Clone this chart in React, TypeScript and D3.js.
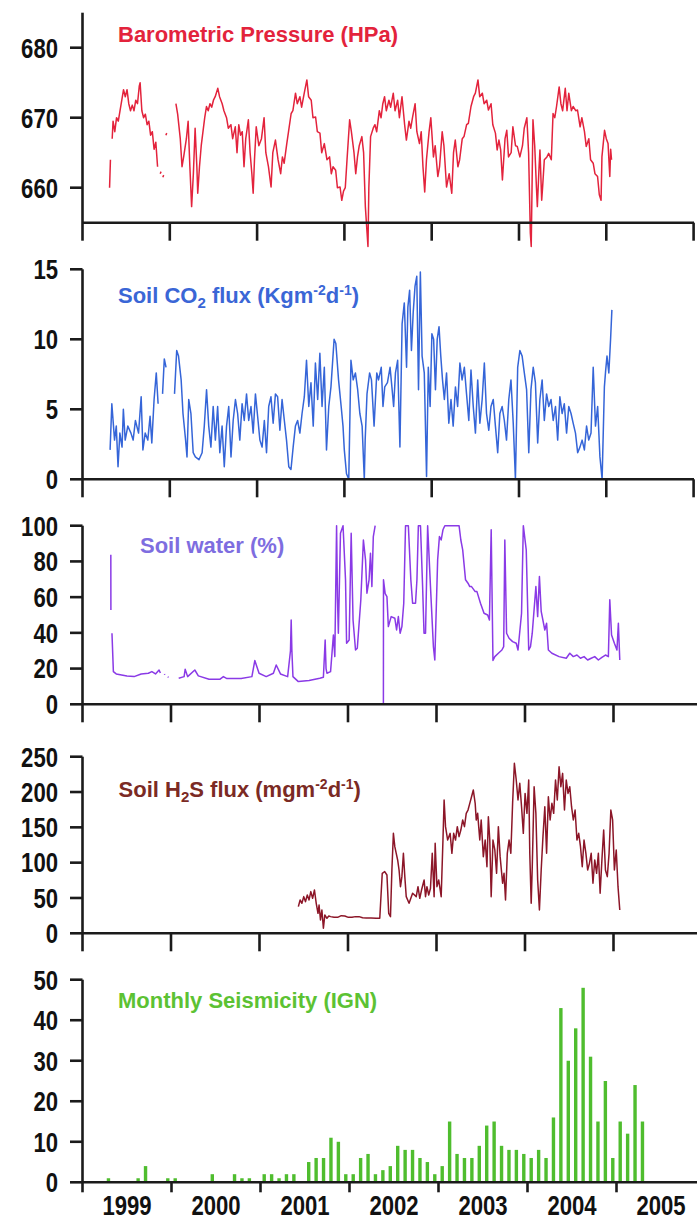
import React from 'react';
import * as d3 from 'd3';

// decimal year, value; null = gap in the record
type Pt = [number, number] | null;

const yearLabels = ['1999', '2000', '2001', '2002', '2003', '2004', '2005'];
const yearTicks = [1999, 2000, 2001, 2002, 2003, 2004, 2005, 2006];

const pressureTicks = [660, 670, 680];
const co2Ticks = [0, 5, 10, 15];
const waterTicks = [0, 20, 40, 60, 80, 100];
const h2sTicks = [0, 50, 100, 150, 200, 250];
const seismicTicks = [0, 10, 20, 30, 40, 50];

const pressure: Pt[] = [
  [1999.31, 660], [1999.32, 664], null,
  [1999.34, 667], [1999.35, 669.5], [1999.37, 668], [1999.39, 670], [1999.41, 669.5], [1999.43, 671],
  [1999.45, 672.5], [1999.47, 674], [1999.49, 673], [1999.51, 674], [1999.53, 672], [1999.55, 671],
  [1999.57, 671.8], [1999.59, 671], [1999.61, 672.5], [1999.63, 672], [1999.65, 674.5], [1999.66, 675],
  [1999.68, 671], [1999.70, 670], [1999.72, 670.5], [1999.74, 669], [1999.76, 669.5], [1999.78, 667.5],
  [1999.80, 668], [1999.82, 665.5], [1999.84, 666.5], [1999.86, 663], null,
  [1999.89, 662], [1999.90, 662.3], null, [1999.92, 661.5], [1999.93, 661.8], null,
  [1999.955, 667.5], [1999.965, 667.8], null,
  [2000.07, 672], [2000.09, 670.5], [2000.12, 667], [2000.14, 663], [2000.16, 664.5], [2000.19, 667],
  [2000.21, 669.5], [2000.23, 663], [2000.25, 657.3], [2000.27, 662], [2000.29, 668.5], [2000.31, 663],
  [2000.32, 659.2], [2000.34, 663], [2000.36, 666], [2000.38, 668], [2000.40, 670], [2000.42, 671.6],
  [2000.44, 671], [2000.46, 672], [2000.48, 671.5], [2000.50, 672.5], [2000.52, 673], [2000.55, 674.2],
  [2000.57, 673], [2000.60, 672], [2000.62, 671], [2000.65, 670], [2000.67, 668.5], [2000.70, 669],
  [2000.72, 667], [2000.75, 668.7], [2000.77, 665], [2000.79, 669], [2000.81, 667.5], [2000.83, 668],
  [2000.85, 663], [2000.87, 667], [2000.90, 669.7], [2000.92, 665], [2000.94, 662], [2000.955, 659.2],
  [2000.97, 664], [2000.99, 668.7], [2001.02, 666], [2001.05, 667], [2001.08, 670], [2001.10, 665],
  [2001.13, 663], [2001.16, 660.1], [2001.18, 665], [2001.21, 666.8], [2001.24, 664], [2001.27, 662],
  [2001.29, 664.4], [2001.31, 663.5], [2001.34, 666.3], [2001.36, 668], [2001.39, 670.6], [2001.41, 671],
  [2001.44, 673.5], [2001.46, 672], [2001.49, 673], [2001.51, 671.5], [2001.54, 673.5], [2001.57, 675.4],
  [2001.59, 673], [2001.62, 672.5], [2001.64, 670], [2001.67, 670.1], [2001.69, 668], [2001.72, 667.8],
  [2001.74, 665], [2001.77, 666.3], [2001.80, 664], [2001.83, 664.4], [2001.85, 662], [2001.87, 663],
  [2001.90, 662.5], [2001.92, 660], [2001.95, 660.1], [2001.97, 658.2], [2001.99, 659.5], [2002.01, 660],
  [2002.03, 664], [2002.06, 669.7], [2002.08, 668], [2002.11, 665], [2002.13, 662], [2002.15, 664.4],
  [2002.17, 666], [2002.20, 667.3], [2002.22, 665], [2002.24, 657.3], [2002.26, 653.5], [2002.27, 651.6],
  [2002.28, 660], [2002.30, 667.3], [2002.33, 668.5], [2002.35, 669], [2002.37, 668], [2002.40, 671],
  [2002.42, 670], [2002.44, 672], [2002.46, 673], [2002.48, 671], [2002.51, 672.5], [2002.53, 671.5],
  [2002.56, 673.5], [2002.58, 671], [2002.61, 672.5], [2002.63, 670], [2002.66, 673], [2002.69, 669],
  [2002.71, 666.8], [2002.74, 669.5], [2002.76, 668.5], [2002.78, 670], [2002.81, 672], [2002.83, 668],
  [2002.86, 666.3], [2002.88, 668], [2002.90, 663], [2002.92, 659.4], [2002.94, 664], [2002.97, 668],
  [2002.99, 670], [2003.02, 664.4], [2003.04, 666], [2003.07, 661.6], [2003.09, 663], [2003.12, 668],
  [2003.14, 666], [2003.17, 660.1], [2003.20, 662], [2003.23, 659.2], [2003.25, 665], [2003.27, 666.8],
  [2003.30, 663], [2003.32, 664], [2003.35, 667], [2003.37, 667.3], [2003.40, 669], [2003.42, 669.2],
  [2003.45, 671.6], [2003.48, 673], [2003.50, 673.5], [2003.53, 675.4], [2003.55, 673], [2003.58, 673.5],
  [2003.60, 672], [2003.63, 672.5], [2003.65, 671.1], [2003.68, 672], [2003.70, 669], [2003.73, 667.8],
  [2003.75, 665.4], [2003.77, 666.8], [2003.79, 665.4], [2003.81, 661.1], [2003.84, 667], [2003.86, 668.2],
  [2003.88, 664.4], [2003.91, 665], [2003.93, 668.7], [2003.96, 666], [2003.98, 665.9], [2004.01, 664.4],
  [2004.04, 666], [2004.06, 668.5], [2004.09, 670], [2004.11, 665], [2004.13, 653.5], [2004.14, 651.6],
  [2004.16, 669.7], [2004.18, 666], [2004.20, 660], [2004.21, 657.3], [2004.23, 663], [2004.24, 665.4],
  [2004.26, 658.2], [2004.27, 660], [2004.29, 664], [2004.32, 664.4], [2004.34, 664.9], [2004.37, 664],
  [2004.39, 670.6], [2004.41, 670], [2004.43, 671.6], [2004.46, 674.4], [2004.48, 672], [2004.50, 671],
  [2004.53, 674.2], [2004.55, 671], [2004.57, 673.5], [2004.60, 671], [2004.62, 671.6], [2004.65, 671],
  [2004.67, 671.1], [2004.70, 668.7], [2004.72, 670], [2004.75, 668], [2004.77, 665.9], [2004.80, 667],
  [2004.82, 664], [2004.85, 663.5], [2004.87, 662], [2004.90, 661.6], [2004.92, 659], [2004.94, 658.2],
  [2004.95, 664.4], [2004.98, 668.2], [2005.00, 667], [2005.02, 666.3], [2005.04, 661.6], [2005.05, 665.5],
  [2005.06, 664],
];

const co2: Pt[] = [
  [1999.316, 2.1], [1999.336, 5.4], [1999.367, 2.8], [1999.387, 3.8], [1999.407, 0.9], [1999.428, 3.3],
  [1999.453, 2.3], [1999.468, 5.0], [1999.489, 2.8], [1999.519, 3.8], [1999.555, 3.3], [1999.580, 2.8],
  [1999.606, 4.2], [1999.642, 3.3], [1999.672, 5.9], [1999.692, 2.1], [1999.718, 3.3], [1999.748, 2.8],
  [1999.774, 4.5], [1999.794, 2.6], [1999.820, 5.7], [1999.845, 7.6], [1999.866, 5.4], null,
  [1999.917, 6.1], [1999.937, 8.6], [1999.957, 8.0], null,
  [2000.054, 6.1], [2000.079, 9.2], [2000.100, 8.8], [2000.130, 7.1], [2000.151, 4.7], [2000.181, 2.8],
  [2000.197, 1.6], [2000.217, 5.7], [2000.242, 4.7], [2000.268, 1.9], [2000.293, 1.6], [2000.334, 1.4],
  [2000.370, 1.9], [2000.395, 3.8], [2000.421, 6.4], [2000.446, 3.8], [2000.471, 2.3], [2000.497, 5.2],
  [2000.522, 2.8], [2000.548, 5.2], [2000.573, 1.9], [2000.599, 3.8], [2000.624, 0.9], [2000.650, 3.8],
  [2000.675, 5.2], [2000.701, 1.6], [2000.726, 4.2], [2000.752, 5.7], [2000.777, 4.7], [2000.802, 2.8],
  [2000.828, 5.4], [2000.853, 4.2], [2000.879, 6.1], [2000.904, 4.2], [2000.930, 5.2], [2000.955, 3.3],
  [2000.981, 6.1], [2001.006, 4.5], [2001.032, 2.8], [2001.057, 2.3], [2001.083, 4.2], [2001.108, 1.9],
  [2001.133, 5.2], [2001.159, 5.9], [2001.184, 4.0], [2001.210, 6.1], [2001.235, 5.9], [2001.261, 3.5],
  [2001.286, 5.7], [2001.312, 4.2], [2001.337, 2.8], [2001.363, 0.9], [2001.388, 0.7], [2001.413, 2.3],
  [2001.439, 3.8], [2001.464, 4.2], [2001.490, 3.3], [2001.515, 4.7], [2001.541, 5.9], [2001.566, 8.5],
  [2001.592, 5.2], [2001.617, 6.9], [2001.643, 3.8], [2001.668, 8.3], [2001.694, 5.7], [2001.719, 9.0],
  [2001.744, 5.2], [2001.770, 8.0], [2001.795, 2.1], [2001.821, 5.2], [2001.846, 6.6], [2001.882, 10.0],
  [2001.902, 9.7], [2001.933, 7.1], [2001.963, 5.2], [2001.984, 3.8], [2001.999, 2.1], [2002.024, 0.4],
  [2002.050, 0], [2002.075, 8.5], [2002.101, 7.1], [2002.126, 7.6], [2002.152, 6.4], [2002.177, 4.7],
  [2002.203, 3.8], [2002.228, 0], [2002.238, 2.8], [2002.259, 6.1], [2002.289, 7.6], [2002.310, 7.1],
  [2002.340, 3.8], [2002.371, 7.6], [2002.391, 7.1], [2002.422, 8.0], [2002.442, 5.2], [2002.462, 6.6],
  [2002.493, 6.9], [2002.523, 8.0], [2002.544, 6.6], [2002.564, 5.2], [2002.585, 7.6], [2002.610, 8.5],
  [2002.636, 2.3], [2002.661, 11.1], [2002.686, 12.6], [2002.712, 8.0], [2002.727, 12.3], [2002.747, 13.5],
  [2002.768, 9.2], [2002.788, 11.9], [2002.809, 13.8], [2002.829, 14.5], [2002.849, 6.4], [2002.870, 14.8],
  [2002.890, 8.8], [2002.915, 7.6], [2002.941, 0.2], [2002.961, 8.0], [2002.982, 5.2], [2003.002, 10.4],
  [2003.022, 10.0], [2003.043, 6.4], [2003.063, 10.0], [2003.084, 10.9], [2003.104, 8.8], [2003.124, 7.1],
  [2003.145, 5.7], [2003.170, 7.6], [2003.196, 4.0], [2003.221, 5.7], [2003.246, 3.8], [2003.272, 6.6],
  [2003.297, 5.2], [2003.323, 8.3], [2003.348, 7.1], [2003.374, 8.0], [2003.399, 6.1], [2003.425, 4.2],
  [2003.450, 7.8], [2003.476, 5.2], [2003.501, 3.3], [2003.527, 7.1], [2003.552, 4.0], [2003.578, 5.7],
  [2003.603, 8.3], [2003.628, 4.7], [2003.654, 3.5], [2003.679, 5.2], [2003.705, 5.7], [2003.730, 3.8],
  [2003.756, 1.9], [2003.781, 4.7], [2003.807, 5.2], [2003.832, 4.2], [2003.857, 2.8], [2003.883, 5.7],
  [2003.908, 7.1], [2003.934, 4.0], [2003.959, 0], [2003.985, 8.0], [2004.010, 9.2], [2004.036, 8.8],
  [2004.061, 7.6], [2004.087, 6.4], [2004.112, 1.9], [2004.137, 6.4], [2004.163, 8.0], [2004.188, 6.9],
  [2004.214, 2.6], [2004.239, 5.7], [2004.265, 7.1], [2004.290, 4.2], [2004.316, 6.1], [2004.341, 5.2],
  [2004.367, 5.7], [2004.392, 4.2], [2004.418, 5.2], [2004.443, 2.8], [2004.468, 5.9], [2004.494, 4.7],
  [2004.519, 5.4], [2004.545, 3.3], [2004.570, 5.2], [2004.596, 4.7], [2004.621, 4.0], [2004.647, 3.3],
  [2004.672, 1.9], [2004.698, 2.3], [2004.723, 2.8], [2004.749, 2.1], [2004.774, 3.8], [2004.799, 2.8],
  [2004.825, 3.3], [2004.850, 8.0], [2004.876, 3.8], [2004.901, 5.2], [2004.927, 1.6], [2004.952, 0],
  [2004.978, 6.6], [2004.993, 7.8], [2005.008, 8.8], [2005.029, 7.6], [2005.049, 10.0], [2005.064, 12.1],
];

const soilWater: Pt[] = [
  [1999.320, 83.7], [1999.321, 52.8], null,
  [1999.333, 39.8], [1999.349, 18.3], [1999.381, 17], [1999.502, 15.9], [1999.583, 15.5], [1999.663, 17],
  [1999.744, 17.4], [1999.784, 18.3], [1999.825, 17], [1999.865, 19.2], [1999.88, 17.5], null,
  [1999.926, 17], [1999.93, 16.5], null, [1999.966, 15.5], [1999.97, 15], null,
  [2000.087, 14.6], [2000.148, 15.5], [2000.160, 19.6], [2000.188, 15.5], [2000.269, 19.2], [2000.309, 15.9],
  [2000.430, 14], [2000.551, 14], [2000.592, 15.5], [2000.632, 14.4], [2000.793, 14.4], [2000.914, 15.5],
  [2000.947, 24.5], [2000.995, 17.4], [2001.076, 15.5], [2001.157, 17.4], [2001.189, 22], [2001.237, 17],
  [2001.318, 15.5], [2001.350, 30], [2001.358, 47.2], [2001.366, 30], [2001.378, 15.5], [2001.439, 12.7],
  [2001.560, 13.3], [2001.681, 14.6], [2001.722, 15.1], [2001.742, 36], [2001.752, 20], [2001.762, 17.4],
  [2001.803, 18.3], [2001.835, 38.8], [2001.851, 26.7], [2001.871, 100], [2001.881, 60], [2001.891, 39.8],
  [2001.915, 95.8], [2001.944, 100], [2001.972, 69.7], [2001.984, 34.2], [2002.013, 36], [2002.036, 95.8],
  [2002.057, 47.2], [2002.085, 30.4], [2002.105, 31.4], [2002.145, 58.5], [2002.174, 92], [2002.198, 80.9],
  [2002.214, 62.2], [2002.238, 69.7], [2002.254, 84.6], [2002.270, 65.9], [2002.286, 93.9], [2002.307, 100], null,
  [2002.400, 0], [2002.401, 69.7], [2002.42, 62], [2002.440, 60.3], [2002.456, 43.5], [2002.488, 49.1],
  [2002.529, 48.2], [2002.549, 41.6], [2002.569, 49.1], [2002.589, 39.8], [2002.609, 43.5], [2002.630, 56.6],
  [2002.650, 100], [2002.682, 100], [2002.710, 69.7], [2002.730, 56.6], [2002.763, 56.6], [2002.779, 69.7],
  [2002.795, 100], [2002.819, 100], [2002.843, 65.9], [2002.859, 39.8], [2002.876, 39.8], [2002.900, 100],
  [2002.932, 65.9], [2002.965, 32.3], [2002.981, 24.8], [2003.013, 80.9], [2003.033, 93.9], [2003.053, 92],
  [2003.073, 97.7], [2003.094, 100], [2003.255, 100], [2003.275, 92], [2003.296, 86.5], [2003.328, 69.7],
  [2003.356, 67.8], [2003.376, 65.9], [2003.396, 65.9], [2003.437, 63.1], [2003.457, 63.1], [2003.497, 56.6],
  [2003.537, 51], [2003.578, 50], [2003.598, 47.2], [2003.618, 97.7], [2003.638, 24.5], [2003.659, 26.7],
  [2003.699, 28.6], [2003.739, 30.4], [2003.759, 32.3], [2003.772, 92], [2003.792, 39.8], [2003.820, 37],
  [2003.860, 35.1], [2003.901, 34.2], [2003.921, 30.4], [2003.961, 51], [2003.981, 100], [2004.014, 86.5],
  [2004.042, 30.4], [2004.062, 32.3], [2004.082, 39.8], [2004.123, 65.9], [2004.143, 49.1], [2004.163, 71.5],
  [2004.183, 52], [2004.224, 41.6], [2004.244, 45.4], [2004.264, 30.4], [2004.304, 28.6], [2004.385, 26.7],
  [2004.466, 25.8], [2004.506, 28.6], [2004.546, 26.7], [2004.587, 27.6], [2004.627, 25.8], [2004.667, 26.7],
  [2004.708, 24.8], [2004.748, 25.8], [2004.788, 26.7], [2004.829, 24.8], [2004.869, 26.3], [2004.909, 27.6],
  [2004.942, 26.7], [2004.958, 58.5], [2004.978, 38.8], [2005.010, 34.2], [2005.039, 30.4], [2005.055, 45.4],
  [2005.071, 24.8],
];

const h2s: Pt[] = [
  [2001.439, 37.7], [2001.459, 47.2], [2001.479, 42.5], [2001.500, 51.9], [2001.520, 44.8], [2001.540, 54.2],
  [2001.560, 47.2], [2001.580, 59], [2001.600, 49.5], [2001.621, 61.3], [2001.641, 42.5], [2001.661, 28.3],
  [2001.673, 40], [2001.689, 18.9], [2001.705, 33], [2001.722, 7.1], [2001.738, 25.9], [2001.762, 21.2],
  [2001.783, 24.5], [2001.803, 23.6], [2001.843, 22.6], [2001.883, 22.6], [2001.924, 25], [2001.964, 24.5],
  [2002.004, 22.6], [2002.044, 22.6], [2002.085, 23.6], [2002.125, 23.6], [2002.165, 22], [2002.206, 21.7],
  [2002.26, 21.5], [2002.319, 21.2], [2002.359, 21.2], [2002.387, 84.9], [2002.415, 87.3], [2002.440, 82.5],
  [2002.460, 28.3], [2002.480, 23.6], [2002.496, 89.6], [2002.513, 141.5], [2002.529, 122.6], [2002.545, 113.2],
  [2002.561, 103.8], [2002.577, 89.6], [2002.593, 66], [2002.609, 80.2], [2002.626, 113.2], [2002.642, 80.2],
  [2002.658, 51.9], [2002.690, 42.5], [2002.730, 56.6], [2002.771, 51.9], [2002.791, 66], [2002.811, 49.5],
  [2002.831, 61.3], [2002.860, 75.5], [2002.876, 51.9], [2002.892, 66], [2002.912, 54.2], [2002.932, 63.7],
  [2002.952, 113.2], [2002.973, 51.9], [2002.985, 127.4], [2003.005, 66], [2003.025, 75.5], [2003.053, 51.9],
  [2003.073, 132], [2003.086, 188.7], [2003.102, 151], [2003.126, 132], [2003.154, 141.5], [2003.174, 113.2],
  [2003.194, 141.5], [2003.215, 132], [2003.235, 151], [2003.255, 136.8], [2003.275, 146.2], [2003.296, 160.4],
  [2003.316, 151], [2003.336, 169.8], [2003.356, 174.5], [2003.376, 184], [2003.396, 193.4], [2003.416, 202.8],
  [2003.437, 184], [2003.449, 160.4], [2003.465, 169.8], [2003.489, 132], [2003.505, 160.4], [2003.529, 108.5],
  [2003.550, 132], [2003.570, 94.3], [2003.586, 165], [2003.602, 132], [2003.618, 51.9], [2003.638, 132],
  [2003.659, 118], [2003.679, 84.9], [2003.699, 151], [2003.719, 108.5], [2003.747, 70.8], [2003.763, 84.9],
  [2003.780, 47.2], [2003.800, 113.2], [2003.820, 132], [2003.840, 113.2], [2003.860, 184], [2003.880, 240.6],
  [2003.901, 217], [2003.921, 188.7], [2003.941, 212.3], [2003.961, 179.2], [2003.981, 141.5], [2004.001, 198],
  [2004.022, 169.8], [2004.042, 217], [2004.054, 113.2], [2004.070, 42.5], [2004.082, 94.3], [2004.103, 207.5],
  [2004.123, 169.8], [2004.143, 75.5], [2004.163, 33], [2004.183, 89.6], [2004.203, 136.8], [2004.224, 179.2],
  [2004.244, 113.2], [2004.264, 193.4], [2004.284, 160.4], [2004.304, 184], [2004.324, 169.8], [2004.345, 217],
  [2004.365, 188.7], [2004.385, 235.8], [2004.405, 207.5], [2004.425, 226.4], [2004.446, 174.5], [2004.466, 217],
  [2004.486, 198], [2004.506, 207.5], [2004.526, 179.2], [2004.546, 160.4], [2004.566, 174.5], [2004.587, 132],
  [2004.607, 141.5], [2004.627, 122.6], [2004.647, 94.3], [2004.667, 132], [2004.688, 113.2], [2004.708, 89.6],
  [2004.728, 99], [2004.748, 113.2], [2004.768, 70.8], [2004.788, 103.8], [2004.809, 84.9], [2004.829, 113.2],
  [2004.849, 56.6], [2004.869, 103.8], [2004.889, 146.2], [2004.909, 89.6], [2004.930, 80.2], [2004.950, 113.2],
  [2004.970, 174.5], [2004.990, 160.4], [2005.010, 89.6], [2005.031, 118], [2005.051, 66], [2005.071, 33],
];

// monthly earthquake counts, Jan 1999 onwards
const seismicity = [
  0, 0, 0, 1, 0, 0, 0, 1, 4, 0, 0, 1,
  1, 0, 0, 0, 0, 2, 0, 0, 2, 1, 1, 0,
  2, 2, 1, 2, 2, 0, 5, 6, 6, 11, 10, 2,
  2, 6, 7, 2, 3, 4, 9, 8, 8, 6, 5, 2,
  4, 15, 7, 6, 6, 9, 14, 15, 9, 8, 8, 7,
  6, 8, 6, 16, 43, 30, 38, 48, 31, 15, 25, 6,
  15, 12, 24, 15,
];

const W = 697;
const H = 1222;
const X0 = 82.5;
const FONT = "'Liberation Sans', Arial, sans-serif";
const AXIS = '#1b1b1b';
const SQUEEZE = 0.82; // the original uses a condensed face

const lineLayout = [
  { data: pressure, ticks: pressureTicks, domain: [655, 685], top: 12.7, bottom: 222.7, yearPx: 87.3, xEnd: 694, endTick: true, color: '#e3233c' },
  { data: co2, ticks: co2Ticks, domain: [0, 15], top: 269.3, bottom: 479.3, yearPx: 87.3, xEnd: 694, endTick: true, color: '#3565d8' },
  { data: soilWater, ticks: waterTicks, domain: [0, 100], top: 525.7, bottom: 704.3, yearPx: 88.5, xEnd: 697, endTick: false, color: '#8a3ae6' },
  { data: h2s, ticks: h2sTicks, domain: [0, 250], top: 756.7, bottom: 933.3, yearPx: 88.5, xEnd: 697, endTick: false, color: '#8c1628' },
];

const TICK = 18;

function Narrow({ x, y, anchor, size, children }: any) {
  return (
    <text
      transform={`translate(${x},${y}) scale(${SQUEEZE},1)`}
      textAnchor={anchor}
      fontFamily={FONT}
      fontWeight="bold"
      fontSize={size}
      fill="#111"
    >
      {children}
    </text>
  );
}

function YAxis({ y, ticks, top, bottom, tickLen }: any) {
  return (
    <g>
      <line x1={X0} x2={X0} y1={top} y2={bottom + tickLen} stroke={AXIS} strokeWidth={2.6} />
      {ticks.map((t: number) => (
        <g key={t}>
          <line x1={X0 - 12.5} x2={X0} y1={y(t)} y2={y(t)} stroke={AXIS} strokeWidth={2.6} />
          <Narrow x={58} y={y(t) + 9.8} anchor="end" size={27}>
            {t}
          </Narrow>
        </g>
      ))}
    </g>
  );
}

function Title({ x, y, color, size = 22, children }: any) {
  return (
    <text x={x} y={y} fill={color} fontFamily={FONT} fontWeight="bold" fontSize={size}>
      {children}
    </text>
  );
}

export default function App() {
  const panels = lineLayout.map((p) => {
    const x = d3.scaleLinear().domain([1999, 2006]).range([X0, X0 + 7 * p.yearPx]);
    const y = d3.scaleLinear().domain(p.domain).range([p.bottom, p.top]);
    const line = d3
      .line<Pt>()
      .defined((d) => d !== null)
      .x((d) => x((d as [number, number])[0]))
      .y((d) => y((d as [number, number])[1]));
    return { ...p, x, y, path: line(p.data) || '' };
  });

  // seismicity panel has its own, slightly wider time axis
  const xs = d3.scaleLinear().domain([1999, 2006]).range([X0, X0 + 7 * 89]);
  const ys = d3.scaleLinear().domain([0, 50]).range([1182.3, 979.7]);

  return (
    <svg width={W} height={H} style={{ position: 'absolute', left: 0, top: 0, background: '#fff' }}>
      {panels.map((p, i) => (
        <g key={i}>
          <path d={p.path} fill="none" stroke={p.color} strokeWidth={1.5} strokeLinejoin="round" />
          <line x1={X0} x2={p.xEnd} y1={p.bottom} y2={p.bottom} stroke={AXIS} strokeWidth={2.6} />
          {yearTicks
            .filter((t) => p.x(t) <= W && t > 1999 && (p.endTick || t < 2006))
            .map((t) => (
              <line key={t} x1={p.x(t)} x2={p.x(t)} y1={p.bottom} y2={p.bottom + TICK} stroke={AXIS} strokeWidth={2.6} />
            ))}
          <YAxis y={p.y} ticks={p.ticks} top={p.top} bottom={p.bottom} tickLen={TICK} />
        </g>
      ))}

      {/* seismicity bars */}
      {seismicity.map((c, i) =>
        c > 0 ? (
          <rect
            key={i}
            x={xs(1999 + (i + 0.5) / 12) - 1.7}
            width={3.4}
            y={ys(c)}
            height={ys(0) - ys(c)}
            fill="#4fbd2e"
          />
        ) : null
      )}
      <line x1={X0} x2={W} y1={ys(0)} y2={ys(0)} stroke={AXIS} strokeWidth={2.6} />
      {yearTicks
        .filter((t) => xs(t) <= W && t > 1999)
        .map((t) => (
          <line key={t} x1={xs(t)} x2={xs(t)} y1={ys(0)} y2={ys(0) + 10} stroke={AXIS} strokeWidth={2.6} />
        ))}
      <YAxis y={ys} ticks={seismicTicks} top={979.7} bottom={1182.3} tickLen={10} />
      {yearLabels.map((l, i) => (
        <Narrow key={l} x={xs(1999 + i + 0.5)} y={1215} anchor="middle" size={27}>
          {l}
        </Narrow>
      ))}

      <Title x={118} y={41.7} color="#e3233c">Barometric Pressure (HPa)</Title>
      <Title x={118} y={302.7} color="#3a66d6">
        Soil CO<tspan fontSize={15} dy={5}>2</tspan>
        <tspan dy={-5}> flux (Kgm</tspan>
        <tspan fontSize={14} dy={-8}>-2</tspan>
        <tspan dy={8}>d</tspan>
        <tspan fontSize={14} dy={-8}>-1</tspan>
        <tspan dy={8}>)</tspan>
      </Title>
      <Title x={140} y={553} color="#7e6de0">Soil water (%)</Title>
      <Title x={118.6} y={796.7} color="#7b2a24">
        Soil H<tspan fontSize={15} dy={5}>2</tspan>
        <tspan dy={-5}>S flux (mgm</tspan>
        <tspan fontSize={14} dy={-8}>-2</tspan>
        <tspan dy={8}>d</tspan>
        <tspan fontSize={14} dy={-8}>-1</tspan>
        <tspan dy={8}>)</tspan>
      </Title>
      <Title x={118} y={1008.3} color="#5cc233">Monthly Seismicity (IGN)</Title>
    </svg>
  );
}
